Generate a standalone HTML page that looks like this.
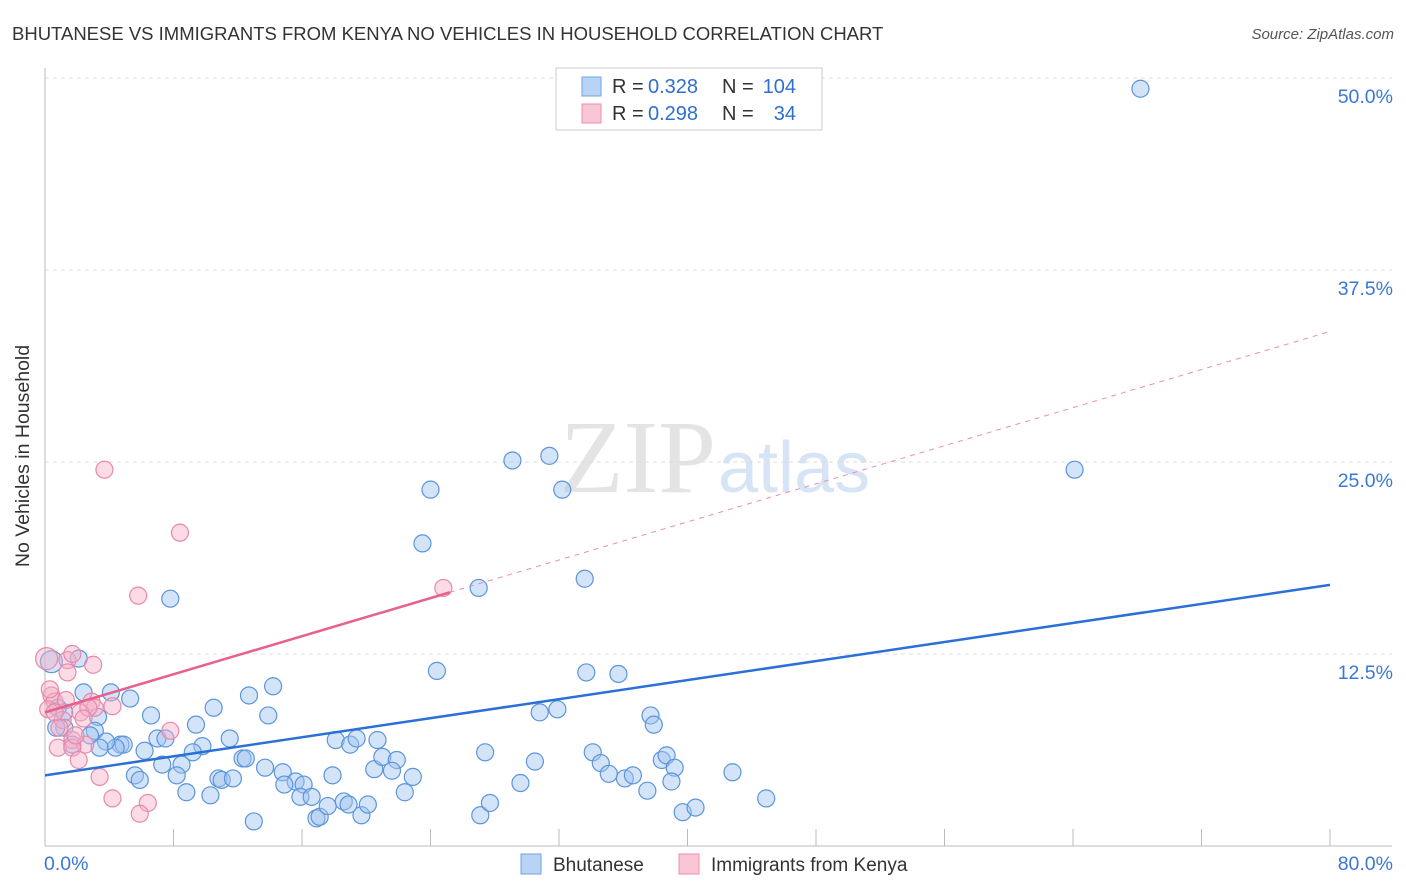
<!DOCTYPE html>
<html><head><meta charset="utf-8"><style>
body{margin:0;background:#fff;font-family:"Liberation Sans",sans-serif;}
svg{display:block}
</style></head><body>
<svg id="chart" width="1406" height="892" xmlns="http://www.w3.org/2000/svg">
<text x="12" y="40" font-size="18.5" fill="#333">BHUTANESE VS IMMIGRANTS FROM KENYA NO VEHICLES IN HOUSEHOLD CORRELATION CHART</text>
<text x="1394" y="39" font-size="15" fill="#555" font-style="italic" text-anchor="end">Source: ZipAtlas.com</text>
<text x="35" y="456" font-size="19.5" fill="#333" text-anchor="middle" transform="rotate(-90 35 456)" dy="-6">No Vehicles in Household</text>
<text x="716" y="492" font-size="104" fill="#e4e4e4" text-anchor="end" font-family="Liberation Serif">ZIP</text>
<text x="718" y="492" font-size="72" fill="#d6e4f6">atlas</text>
<g id="grid"></g><g id="axes"></g><g id="pts"></g><g id="lines"></g>
<g>
<rect x="556" y="68" width="266" height="62" fill="#fff" stroke="#ccc"/>
<rect x="582" y="77" width="19" height="19" fill="#b9d3f5" stroke="#6fa3e3"/>
<rect x="582" y="104" width="19" height="19" fill="#f9c6d6" stroke="#ec8fae"/>
<text x="612" y="93" font-size="20" fill="#333">R =</text>
<text x="648" y="93" font-size="20" fill="#2f6fd0">0.328</text>
<text x="722" y="93" font-size="20" fill="#333">N =</text>
<text x="796" y="93" font-size="20" fill="#2f6fd0" text-anchor="end">104</text>
<text x="612" y="120" font-size="20" fill="#333">R =</text>
<text x="648" y="120" font-size="20" fill="#2f6fd0">0.298</text>
<text x="722" y="120" font-size="20" fill="#333">N =</text>
<text x="796" y="120" font-size="20" fill="#2f6fd0" text-anchor="end">34</text>
</g>
<g>
<rect x="521" y="854" width="20" height="20" fill="#b9d3f5" stroke="#6fa3e3"/>
<text x="553" y="871" font-size="19" fill="#333">Bhutanese</text>
<rect x="679" y="854" width="20" height="20" fill="#f9c6d6" stroke="#ec8fae"/>
<text x="711" y="871" font-size="19" fill="#333">Immigrants from Kenya</text>
</g>
</svg>
<script>
const blueX=[68.2,64.1,31.4,29.1,24.0,32.2,23.5,27.0,33.6,7.8,24.4,33.7,35.7,0.4,2.1,2.4,4.1,5.3,12.7,14.2,10.5,6.6,13.9,9.4,30.8,31.9,37.7,37.9,0.8,1.2,3.3,3.1,2.8,1.2,0.7,4.7,4.9,4.4,3.8,7.0,7.5,6.2,9.8,11.5,9.2,8.5,7.3,5.6,5.9,8.2,10.8,11.0,11.7,12.3,12.5,13.7,14.8,15.6,16.1,15.9,16.6,17.9,18.1,19.0,19.4,20.7,20.5,21.0,21.9,21.6,22.9,22.4,14.9,8.8,10.3,13.0,16.9,17.1,17.6,18.6,18.9,19.7,20.1,27.4,30.5,29.6,27.1,27.7,34.1,34.6,35.1,36.1,36.6,37.5,38.4,38.7,39.2,39.0,39.7,40.5,42.8,44.9,1.7,3.4];
const blueY=[49.3,24.5,25.4,25.1,23.2,23.2,19.7,16.8,17.4,16.1,11.4,11.3,11.2,12.0,12.2,10.0,10.0,9.6,9.8,10.4,9.0,8.5,8.5,7.9,8.7,8.9,8.5,7.9,9.0,8.7,8.4,7.5,7.2,7.7,7.7,6.6,6.6,6.4,6.8,7.0,7.0,6.2,6.5,7.0,6.1,5.3,5.3,4.6,4.3,4.6,4.4,4.3,4.4,5.7,5.7,5.1,4.8,4.2,4.0,3.2,3.2,4.6,6.9,6.6,7.0,6.9,5.0,5.8,5.6,4.9,4.5,3.5,4.0,3.5,3.3,1.6,1.8,1.9,2.6,2.9,2.7,2.0,2.7,6.1,5.5,4.1,2.0,2.8,6.1,5.4,4.7,4.4,4.6,3.6,5.6,5.9,5.1,4.2,2.2,2.5,4.8,3.1,6.6,6.4];
const pinkX=[3.7,8.4,5.8,24.8,0.1,1.4,1.7,3.0,1.4,0.4,0.6,2.9,3.1,4.2,2.2,0.2,1.1,0.9,1.7,2.5,0.8,1.7,2.1,3.4,4.2,6.4,5.9,7.8,0.6,2.7,2.4,1.3,0.3,1.9];
const pinkY=[24.5,20.4,16.3,16.8,12.2,12.1,12.5,11.8,11.3,9.8,9.4,9.4,9.0,9.1,8.7,8.9,8.2,7.7,6.9,6.6,6.4,6.4,5.6,4.5,3.1,2.8,2.1,7.5,8.7,9.0,8.3,9.5,10.2,7.2];
const blueTrend=[4.6,17.0];
const pinkTrend=[8.7,0.31];
const yTicks=[12.5,25.0,37.5,50.0];
const NS="http://www.w3.org/2000/svg";
const sx=v=>45+v/80*1285, sy=v=>846-v/12.5*192;
function mk(t,a,p){const e=document.createElementNS(NS,t);for(const k in a)e.setAttribute(k,a[k]);p.appendChild(e);return e;}
const grid=document.getElementById('grid'),axes=document.getElementById('axes'),pts=document.getElementById('pts'),lines=document.getElementById('lines');
yTicks.forEach(t=>{const l=mk('line',{x1:45,x2:1392,y1:sy(t),y2:sy(t),stroke:'#ddd','stroke-dasharray':'4,4'},grid);


const tx=mk('text',{x:1393,y:sy(t)+25,'font-size':19.5,fill:'#3a78d4','text-anchor':'end'},grid);tx.textContent=t.toFixed(1)+'%';

});
mk('line',{x1:45,x2:45,y1:68,y2:846,stroke:'#bbb'},axes);
mk('line',{x1:45,x2:1392,y1:846,y2:846,stroke:'#bbb'},axes);
for(let i=1;i<=10;i++){mk('line',{x1:sx(i*8),x2:sx(i*8),y1:829,y2:846,stroke:'#bbb'},axes);}
let t0=mk('text',{x:44,y:870,'font-size':19.5,fill:'#3a78d4'},axes);t0.textContent='0.0%';


let t1=mk('text',{x:1393,y:870,'font-size':19.5,fill:'#3a78d4','text-anchor':'end'},axes);t1.textContent='80.0%';


blueX.forEach((x,i)=>{const c=mk('circle',{cx:sx(x),cy:sy(blueY[i]),r:i==13?11:8.5,fill:'rgba(160,195,240,0.45)',stroke:'#5b95dc','stroke-width':1.2},pts);

});
pinkX.forEach((x,i)=>{const c=mk('circle',{cx:sx(x),cy:sy(pinkY[i]),r:i==4?11:8.5,fill:'rgba(244,175,200,0.45)',stroke:'#e889aa','stroke-width':1.2},pts);

});
let bl=mk('line',{x1:sx(0),y1:sy(blueTrend[0]),x2:sx(80),y2:sy(blueTrend[1]),stroke:'#2a70d6','stroke-width':2.5},lines);


const pe=25.2;
let pl=mk('line',{x1:sx(0),y1:sy(pinkTrend[0]),x2:sx(pe),y2:sy(pinkTrend[0]+pinkTrend[1]*pe),stroke:'#e8608c','stroke-width':2.5},lines);


let pd=mk('line',{x1:sx(pe),y1:sy(pinkTrend[0]+pinkTrend[1]*pe),x2:sx(80),y2:sy(pinkTrend[0]+pinkTrend[1]*80),stroke:'#e890ad','stroke-width':1,'stroke-dasharray':'5,5'},lines);


</script>
</body></html>
